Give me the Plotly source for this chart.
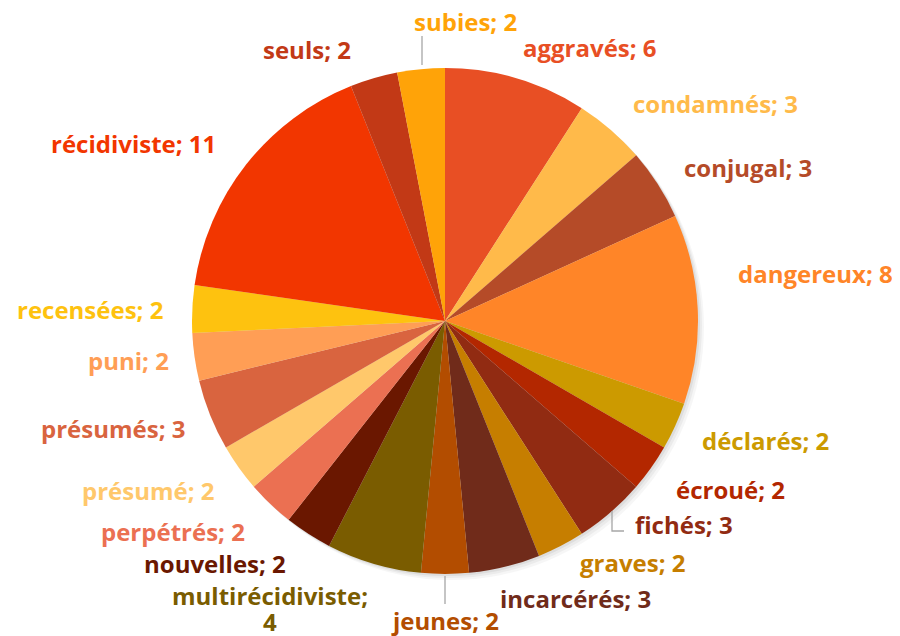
import plotly.graph_objects as go

categories = ["aggravés", "condamnés", "conjugal", "dangereux", "déclarés", "écroué",
              "fichés", "graves", "incarcérés", "jeunes", "multirécidiviste", "nouvelles",
              "perpétrés", "présumé", "présumés", "puni", "recensées", "récidiviste",
              "seuls", "subies"]
values = [6, 3, 3, 8, 2, 2, 3, 2, 3, 2, 4, 2, 2, 2, 3, 2, 2, 11, 2, 2]

colors = ["#E84F24", "#FFBA4A", "#B54B28", "#FF8528", "#CC9A00", "#B32700",
          "#912B12", "#C67E00", "#702B1A", "#B34D00", "#7A5C00", "#6A1700",
          "#EB7052", "#FFC86B", "#D9643F", "#FF9E55", "#FEC20F", "#F23600",
          "#C23916", "#FFA308"]

# label placement (pixel centres of the data labels) -- layout only
label_pos = [(590, 48), (715, 103), (748, 167), (815, 273), (765, 440), (730, 489),
             (684, 524), (633, 562), (575, 598), (445, 620), (270, 595), (215, 563),
             (173, 531), (148, 490), (113, 428), (128, 360), (90, 309), (133, 144),
             (307, 50), (466, 21)]
# labels that wrap onto a second line: second-line centre position
wrap_second = {"multirécidiviste": (270, 621)}

W, H = 900, 636
OFF = 8  # page body margin
cx, cy, R = 445, 321, 253
FONT = dict(family="'Open Sans', Lato, sans-serif", size=24, weight="bold")


def px(x):
    return (x - OFF) / W


def py(y):
    return 1 - (y - OFF) / H


fig = go.Figure()

# soft shadow
for off, a in [(6, 0.035), (4, 0.045), (2, 0.06)]:
    fig.add_trace(go.Pie(
        values=[1], marker=dict(colors=[f"rgba(0,0,0,{a})"]),
        textinfo="none", hoverinfo="skip", showlegend=False, sort=False,
        domain=dict(x=[px(cx - R + off), px(cx + R + off)],
                    y=[py(cy + R + off), py(cy - R + off)]),
    ))

fig.add_trace(go.Pie(
    labels=categories, values=values, sort=False, direction="clockwise", rotation=0,
    marker=dict(colors=colors, line=dict(width=0)),
    textinfo="none", showlegend=False,
    domain=dict(x=[px(cx - R), px(cx + R)], y=[py(cy + R), py(cy - R)]),
))

for cat, v, col, (lx, ly) in zip(categories, values, colors, label_pos):
    if cat in wrap_second:
        parts = [(f"{cat};", (lx, ly)), (f"{v}", wrap_second[cat])]
    else:
        parts = [(f"{cat}; {v}", (lx, ly))]
    for txt, (ax, ay) in parts:
        fig.add_annotation(x=px(ax), y=py(ay), xref="paper", yref="paper",
                           text=txt, showarrow=False, xanchor="center", yanchor="middle",
                           font=dict(FONT, color=col))

# leader lines
lines = [[(422, 36), (422, 65)], [(612, 511), (612, 531), (624, 531)], [(445, 576), (445, 604)]]
for pts in lines:
    path = "M " + " L ".join(f"{px(x)},{py(y)}" for x, y in pts)
    fig.add_shape(type="path", path=path, xref="paper", yref="paper",
                  line=dict(color="#A6A6A6", width=1.3))

fig.update_layout(width=W, height=H, margin=dict(l=0, r=0, t=0, b=0),
                  paper_bgcolor="white", plot_bgcolor="white")
fig.write_html("out.html")
